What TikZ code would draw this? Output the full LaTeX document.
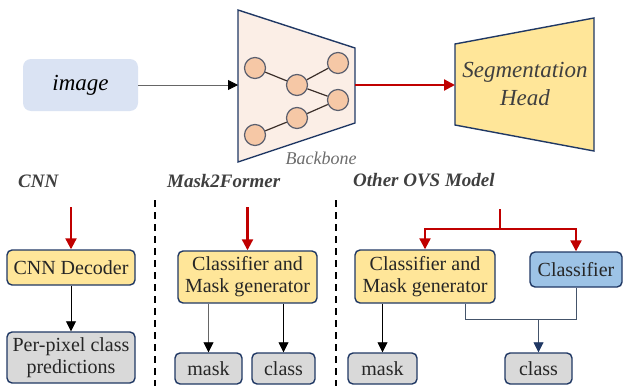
\documentclass[tikz,border=0pt]{standalone}
\usepackage{fontspec}
\setmainfont{Liberation Serif}
\usetikzlibrary{arrows.meta,calc}
\definecolor{navy}{HTML}{203864}
\definecolor{imgblue}{HTML}{DAE3F3}
\definecolor{bbfill}{HTML}{FBEEE6}
\definecolor{circfill}{HTML}{F6C8A6}
\definecolor{circline}{HTML}{5B5F6E}
\definecolor{netline}{HTML}{3B2F2A}
\definecolor{yell}{HTML}{FFE699}
\definecolor{grayfill}{HTML}{D9D9D9}
\definecolor{clsblue}{HTML}{9DC3E6}
\definecolor{darkred}{HTML}{C00000}
\definecolor{conn}{HTML}{44546A}
\definecolor{headtxt}{HTML}{3F3F3F}
\definecolor{txt}{HTML}{262626}
\tikzset{
  box/.style={draw=navy, line width=1.4pt, rounded corners=5pt, align=center, inner sep=1pt, text=txt, font=\rmfamily\fontsize{20}{22}\selectfont},
  ybox/.style={box, fill=yell},
  gbox/.style={box, fill=grayfill},
  bbox/.style={box, fill=clsblue},
  redarr/.style={draw=darkred, line width=2.2pt, -{Triangle[width=11pt,length=11pt]}},
  redline/.style={draw=darkred, line width=2.2pt},
  blkarr/.style={draw=black, line width=0.8pt, -{Triangle[width=10pt,length=10pt]}},
  grayarr/.style={draw=gray!80!black, line width=0.8pt, -{Triangle[width=10pt,length=10pt,color=black]}},
  connline/.style={draw=conn, line width=0.8pt},
  connarr/.style={draw=conn, line width=0.8pt, -{Triangle[width=10pt,length=10pt,color=navy]}},
  heading/.style={font=\rmfamily\fontsize{19}{21}\selectfont\bfseries\itshape, text=headtxt, anchor=west, inner sep=0pt},
  circ/.style={circle, draw=circline, line width=1.2pt, fill=circfill, minimum size=21pt, inner sep=0pt},
  net/.style={draw=netline, line width=1.2pt},
  divider/.style={draw=black, line width=2pt, dash pattern=on 7pt off 5pt}
}
\begin{document}
\begin{tikzpicture}[x=1pt,y=-1pt]
\useasboundingbox (0,0) rectangle (623,388);
% top row
\node[fill=imgblue, rounded corners=8pt, minimum width=115pt, minimum height=52pt, inner sep=0pt,
      font=\rmfamily\fontsize{23}{25}\selectfont\itshape, text=black] (img) at (80.5,85) {image};
% backbone
\draw[fill=bbfill, draw=navy, line width=1.4pt] (238,10) -- (355,48) -- (355,123) -- (238,162) -- cycle;
\coordinate (bbL) at (238,85);
\coordinate (bbR) at (355,85);
\node[circ] (c1) at (255,68) {};
\node[circ] (c2) at (297,85) {};
\node[circ] (c3) at (338,63) {};
\node[circ] (c4) at (338,100) {};
\node[circ] (c5) at (297,118) {};
\node[circ] (c6) at (255,135) {};
\draw[net] (c1) -- (c2);
\draw[net] (c2) -- (c3);
\draw[net] (c2) -- (c4);
\draw[net] (c4) -- (c5);
\draw[net] (c5) -- (c6);
\node[font=\rmfamily\fontsize{18}{20}\selectfont\itshape, text=gray!85!black] (bbtxt) at (321,158) {Backbone};
% head
\draw[fill=yell, draw=navy, line width=1.4pt] (455,44) -- (594,18) -- (594,151) -- (455,125) -- cycle;
\coordinate (hdL) at (455,85);
\node[font=\rmfamily\fontsize{23}{28}\selectfont\itshape, text=headtxt, align=center] (hdtxt) at (525,84) {Segmentation\\Head};
\draw[grayarr] (img.east) -- (bbL);
\draw[redarr] (bbR) -- (hdL);
% headings
\node[heading] (h1) at (18,181) {CNN};
\node[heading] (h2) at (167,181) {Mask2Former};
\node[heading] (h3) at (353,180) {Other OVS Model};
% dividers
\coordinate (d1t) at (155,200); \coordinate (d1b) at (155,386);
\coordinate (d2t) at (336,200); \coordinate (d2b) at (336,386);
\draw[divider] (d1t) -- (d1b);
\draw[divider] (d2t) -- (d2b);
% CNN column
\node[ybox, minimum width=128pt, minimum height=35pt] (dec) at (71,267.5) {CNN Decoder};
\node[gbox, minimum width=128pt, minimum height=51pt] (pp) at (71,357.5) {Per-pixel class\\predictions};
\coordinate (s1) at (71,207);
\draw[redarr] (s1) -- (dec.north);
\draw[blkarr] (dec.south) -- (pp.north);
% Mask2Former column
\node[ybox, minimum width=139pt, minimum height=52pt] (mcmg) at (247.5,277) {Classifier and\\Mask generator};
\node[gbox, minimum width=67pt, minimum height=31pt] (mmask) at (208.5,368.5) {mask};
\node[gbox, minimum width=63pt, minimum height=31pt] (mclass) at (283.5,368.5) {class};
\coordinate (s2) at (247.5,207);
\draw[redarr] (s2) -- (mcmg.north);
\draw[grayarr] (mcmg.south -| mmask.north) -- (mmask.north);
\draw[blkarr] (mcmg.south -| mclass.north) -- (mclass.north);
% OVS column
\node[ybox, minimum width=140pt, minimum height=53pt] (ocmg) at (425,276.5) {Classifier and\\Mask generator};
\node[bbox, minimum width=92pt, minimum height=35pt] (clsf) at (576,269.5) {Classifier};
\node[gbox, minimum width=69pt, minimum height=31pt] (omask) at (382.5,368.5) {mask};
\node[gbox, minimum width=67pt, minimum height=31pt] (oclass) at (538.5,368.5) {class};
\coordinate (s3) at (500,209);
\coordinate (rj) at (500,229);
\draw[redline] (s3) -- (rj);
\draw[redline, -{Triangle[width=11pt,length=11pt]}] (rj) -| (ocmg.north);
\draw[redline, -{Triangle[width=11pt,length=11pt]}] (rj) -| (clsf.north);
\draw[blkarr] (ocmg.south -| omask.north) -- (omask.north);
\coordinate (j1) at (465,319);
\coordinate (jm) at (538.5,319);
\draw[connline] (ocmg.south -| j1) -- (j1) -- (j1 -| clsf.south) -- (clsf.south);
\draw[connarr] (jm) -- (oclass.north);
\end{tikzpicture}
\end{document}
